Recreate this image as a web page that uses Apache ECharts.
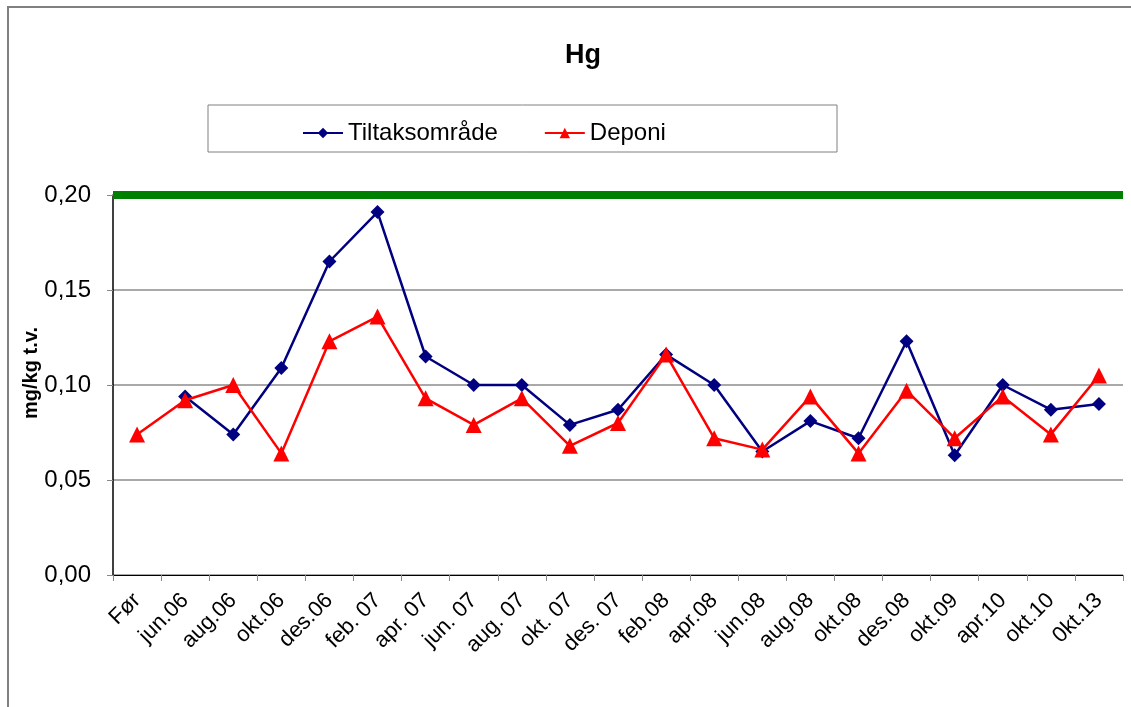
<!DOCTYPE html>
<html>
<head>
<meta charset="utf-8">
<script src="https://cdn.jsdelivr.net/npm/echarts@6/dist/echarts.min.js"></script>
<style>
  html, body { margin: 0; padding: 0; background: #fff; }
  #chart { width: 1131px; height: 707px; }
</style>
</head>
<body>
<div id="chart"></div>
<script>
const categories = ['Før', 'jun.06', 'aug.06', 'okt.06', 'des.06', 'feb. 07', 'apr. 07', 'jun. 07',
  'aug. 07', 'okt. 07', 'des. 07', 'feb.08', 'apr.08', 'jun.08', 'aug.08', 'okt.08', 'des.08',
  'okt.09', 'apr.10', 'okt.10', '0kt.13'];
const tiltaksomrade = [null, 0.094, 0.074, 0.109, 0.165, 0.191, 0.115, 0.100, 0.100, 0.079, 0.087,
  0.116, 0.100, 0.065, 0.081, 0.072, 0.123, 0.063, 0.100, 0.087, 0.090];
const deponi = [0.074, 0.092, 0.100, 0.064, 0.123, 0.136, 0.093, 0.079, 0.093, 0.068, 0.080,
  0.116, 0.072, 0.066, 0.094, 0.064, 0.097, 0.072, 0.094, 0.074, 0.105];
const limitValue = 0.20;

const font = 'Liberation Sans, Arial, sans-serif';
const chart = echarts.init(document.getElementById('chart'));

chart.setOption({
  animation: false,
  backgroundColor: '#fff',
  textStyle: { fontFamily: font },
  title: {
    text: 'Hg',
    left: 578,
    textAlign: 'center',
    top: 37,
    textStyle: { fontSize: 27, fontWeight: 'bold', color: '#000', fontFamily: font }
  },
  legend: {
    top: 116,
    left: 297,
    itemGap: 46,
    itemWidth: 40,
    itemHeight: 13,
    textStyle: { fontSize: 24, color: '#000', fontFamily: font }
  },
  graphic: [
    { type: 'rect', shape: { x: 8, y: 7, width: 1140, height: 720 },
      style: { fill: 'none', stroke: '#808080', lineWidth: 2 }, silent: true },
    { type: 'rect', shape: { x: 208, y: 105, width: 629, height: 47 },
      style: { fill: 'none', stroke: '#808080', lineWidth: 1 }, silent: true },
    { type: 'text', x: 31, y: 373, rotation: Math.PI / 2, silent: true,
      style: { text: 'mg/kg t.v.', fill: '#000', font: 'bold 20px ' + font,
        align: 'center', verticalAlign: 'middle' } }
  ],
  grid: { left: 113, right: 8, top: 195, bottom: 132 },
  xAxis: {
    type: 'category',
    data: categories,
    boundaryGap: true,
    axisLine: { lineStyle: { color: '#000', width: 1 } },
    axisTick: { show: true, length: 6, lineStyle: { color: '#888' } },
    axisLabel: { rotate: 45, fontSize: 22, color: '#000', margin: 22, interval: 0, fontFamily: font }
  },
  yAxis: {
    type: 'value',
    min: 0,
    max: 0.2,
    interval: 0.05,
    axisLine: { show: true, lineStyle: { color: '#000', width: 1.5 } },
    axisTick: { show: true, length: 6, lineStyle: { color: '#888' } },
    axisLabel: {
      fontSize: 24, color: '#000', margin: 22, fontFamily: font,
      formatter: v => v.toFixed(2).replace('.', ',')
    },
    splitLine: { lineStyle: { color: '#8c8c8c', width: 1.5 } }
  },
  series: [
    {
      name: 'Tiltaksområde',
      type: 'line',
      data: tiltaksomrade,
      color: '#000080',
      symbol: 'diamond',
      symbolSize: 14,
      lineStyle: { width: 2.5, color: '#000080' },
      itemStyle: { color: '#000080' },
      z: 3,
      markLine: {
        silent: true,
        symbol: 'none',
        label: { show: false },
        lineStyle: { color: '#008000', width: 8, type: 'solid' },
        data: [{ yAxis: limitValue }]
      }
    },
    {
      name: 'Deponi',
      type: 'line',
      data: deponi,
      color: '#ff0000',
      symbol: 'triangle',
      symbolSize: 16,
      lineStyle: { width: 2.5, color: '#ff0000' },
      itemStyle: { color: '#ff0000' },
      z: 4
    }
  ]
});
</script>
</body>
</html>
